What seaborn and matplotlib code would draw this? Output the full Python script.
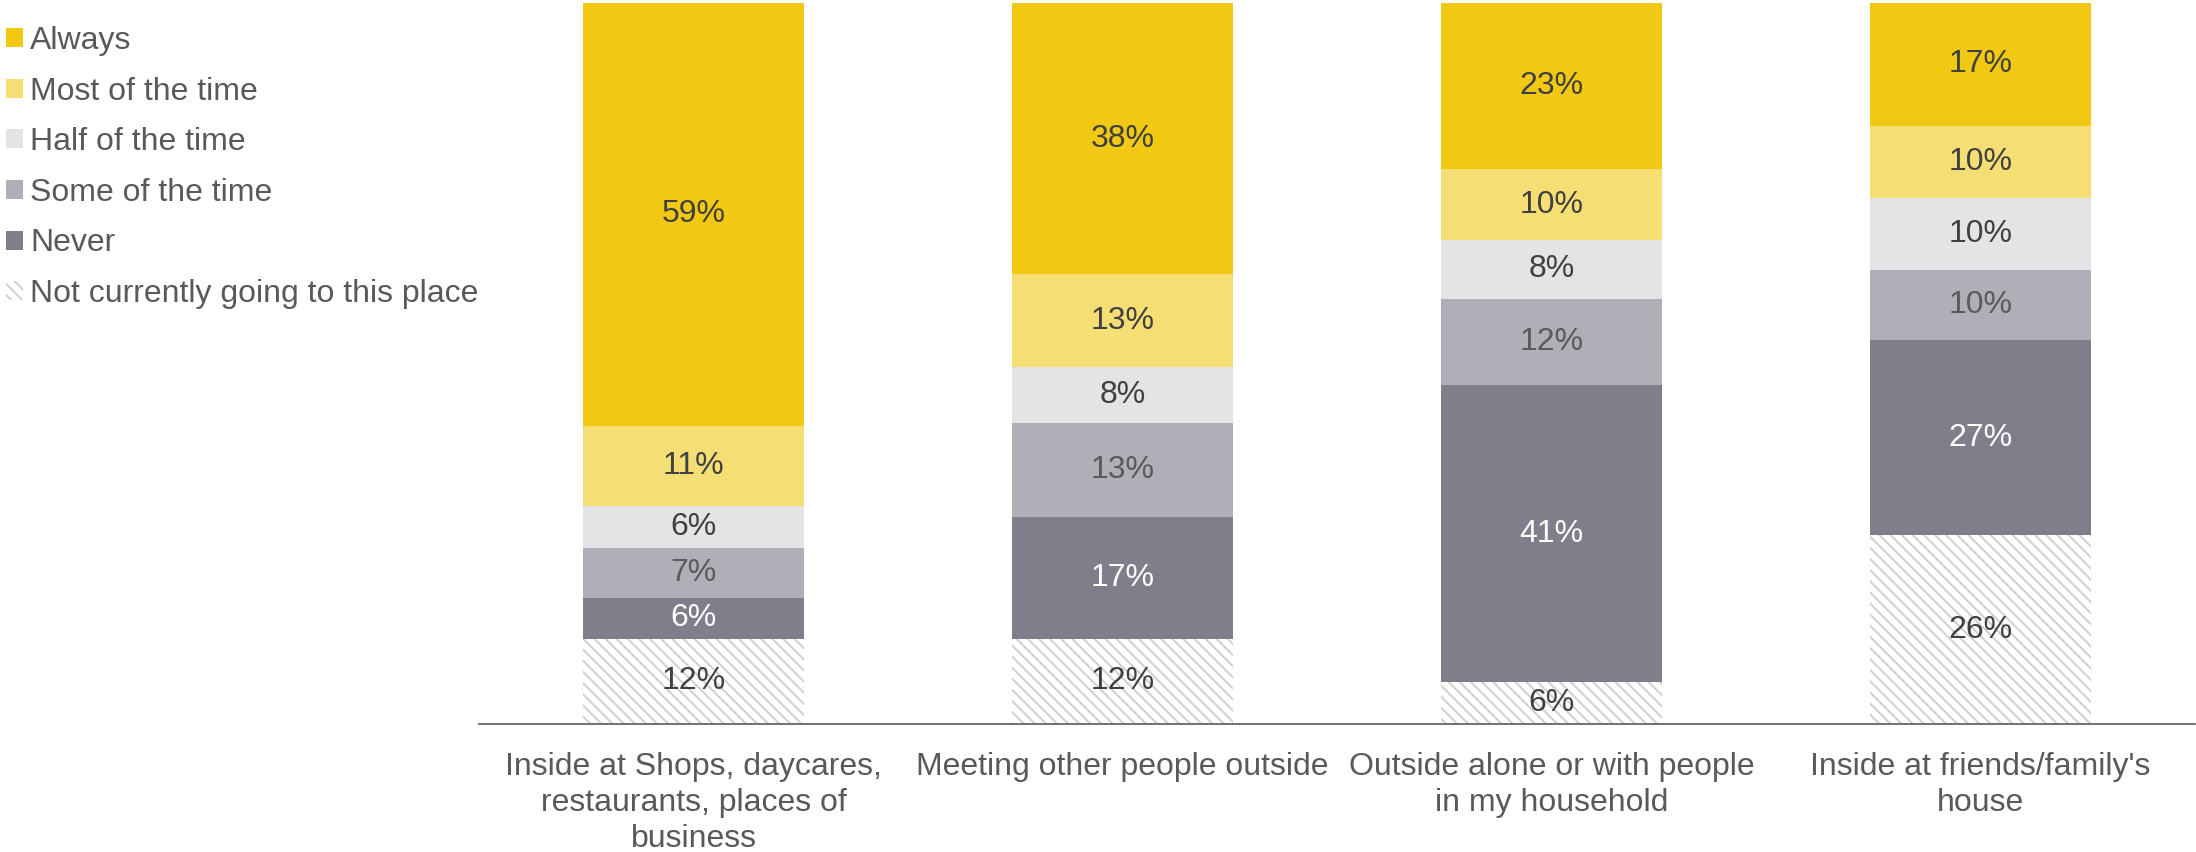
import matplotlib
matplotlib.use("Agg")
import matplotlib.pyplot as plt
from matplotlib.patches import Patch
from matplotlib.ticker import FixedLocator
import pandas as pd
import seaborn as sns

places = [
    "Inside at Shops, daycares,\nrestaurants, places of\nbusiness",
    "Meeting other people outside",
    "Outside alone or with people\nin my household",
    "Inside at friends/family's\nhouse",
]
# stack order bottom -> top
responses = ["Not currently going to this place", "Never", "Some of the time",
             "Half of the time", "Most of the time", "Always"]
not_going = [11.8, 11.8, 5.8, 26.2]
never = [5.7, 16.9, 41.2, 27.0]
some_time = [6.9, 13.0, 12.0, 9.8]
half_time = [5.9, 7.8, 8.1, 9.9]
most_time = [11.1, 12.9, 9.9, 10.1]
always = [58.6, 37.6, 23.0, 17.0]

series = [not_going, never, some_time, half_time, most_time, always]
colors = ["#ffffff", "#7f7e8a", "#b0afb8", "#e4e4e6", "#f5df75", "#f1c913"]
label_colors = ["#404040", "#ffffff", "#5a5a5a", "#404040", "#404040", "#404040"]

TEXT = "#595959"
HATCH = "#cfcfcf"

sns.set_style("white")
plt.rcParams["font.family"] = ["Liberation Sans", "DejaVu Sans"]
plt.rcParams["hatch.linewidth"] = 1.4

fig = plt.figure(figsize=(21.96, 8.52), dpi=100)
ax = fig.add_axes([479 / 2196, 1 - 724 / 852, 1716 / 2196, 721 / 852])

bottom = [0.0] * len(places)
for resp, vals, col, lcol in zip(responses, series, colors, label_colors):
    df = pd.DataFrame({"place": places, "value": vals})
    hatched = resp.startswith("Not")
    sns.barplot(
        data=df, x="place", y="value", order=places, color=col,
        width=0.515, bottom=bottom, ax=ax, saturation=1,
        edgecolor=HATCH if hatched else col,
        linewidth=0, hatch="\\\\\\" if hatched else None,
        errorbar=None,
    )
    ax.bar_label(ax.containers[-1], labels=[f"{v:.0f}%" for v in vals],
                 label_type="center", color=lcol, fontsize=23)
    bottom = [b + v for b, v in zip(bottom, vals)]

ax.set_xlim(-0.5, len(places) - 0.5)
ax.set_ylim(0, 100)
ax.set_xlabel("")
ax.set_ylabel("")
ax.set_yticks([])
for s in ["top", "right", "left"]:
    ax.spines[s].set_visible(False)
ax.spines["bottom"].set_color(TEXT)
ax.spines["bottom"].set_linewidth(1.2)

ax.set_xticks(range(len(places)))
ax.set_xticklabels(places, fontsize=23, color=TEXT, linespacing=1.26,
                   ha="center", va="top")
ax.tick_params(axis="x", which="major", length=0, pad=20.5)
ax.xaxis.set_minor_locator(FixedLocator([i - 0.5 for i in range(len(places) + 1)]))
ax.tick_params(axis="x", which="minor", direction="in", length=6.5,
               width=1.2, color=TEXT)

handles = [Patch(facecolor=c, edgecolor=HATCH if r.startswith("Not") else c,
                 linewidth=0, hatch="\\\\\\" if r.startswith("Not") else None)
           for r, c in zip(responses, colors)][::-1]
fig.legend(handles=handles, labels=responses[::-1], loc="upper left",
           bbox_to_anchor=(6 / 2196, 1 - 26 / 852), frameon=False,
           fontsize=23, labelcolor=TEXT, handlelength=0.53, handleheight=0.53,
           handletextpad=0.22, labelspacing=0.645, borderpad=0, borderaxespad=0)

fig.savefig("out.png", dpi=100)
